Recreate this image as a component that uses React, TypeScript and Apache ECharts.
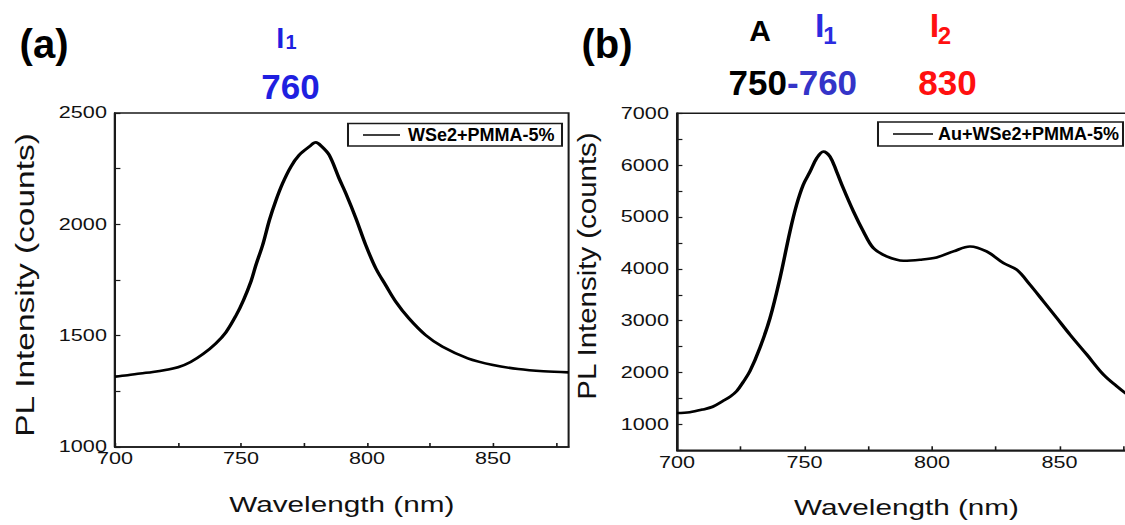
import React, { useEffect, useRef } from "react";
import * as echarts from "echarts";

// horizontal stretch of the original figure's axis typography
const S = 1.35;

// Panel (a): WSe2+PMMA-5%
const wlA = [700, 705, 710, 715, 720, 725, 730, 735, 740, 744, 748, 751, 754, 756, 758.6, 761.3, 763.9, 766.5, 769.8, 773.1, 777.1, 779.7, 782, 785, 788.9, 791.6, 795.6, 799.5, 803.5, 807.4, 811.4, 816.6, 823.2, 830, 840, 850, 860, 870, 880];
const intA = [1316, 1322, 1330, 1337, 1346, 1358, 1382, 1418, 1465, 1515, 1590, 1660, 1745, 1820, 1907, 2020, 2109, 2184, 2259, 2311, 2349, 2368, 2350, 2311, 2207, 2139, 2027, 1907, 1802, 1727, 1653, 1578, 1503, 1450, 1398, 1368, 1350, 1340, 1335];

// Panel (b): Au+WSe2+PMMA-5%
const wlB = [700, 705, 710, 714, 718, 721, 723.4, 726, 728.6, 732.5, 736.5, 740.4, 744.3, 746.9, 749.5, 752.2, 754.8, 757.4, 760, 762.6, 765.2, 769.2, 773.1, 777, 782.2, 788.8, 795.3, 801.8, 808.4, 814.9, 821.4, 828, 833.2, 838.4, 843.7, 848.9, 854.1, 860.7, 867.2, 872.4, 875.7, 880];
const intB = [1220, 1235, 1285, 1340, 1450, 1540, 1641, 1820, 2026, 2476, 3054, 3824, 4721, 5235, 5620, 5876, 6134, 6261, 6165, 5876, 5556, 5106, 4721, 4401, 4240, 4157, 4176, 4220, 4336, 4432, 4336, 4112, 3984, 3695, 3373, 3054, 2732, 2347, 1962, 1737, 1610, 1480];

// tick labels
const xTickLabels = [700, 750, 800, 850];
const yTickLabelsA = [1000, 1500, 2000, 2500];
const yTickLabelsB = [1000, 2000, 3000, 4000, 5000, 6000, 7000];

const seriesNames = ["WSe2+PMMA-5%", "Au+WSe2+PMMA-5%"];

const FONT = '"Liberation Sans", Arial, Helvetica, sans-serif';
const ix = (x: number) => x / S;

function axisCommon() {
  return {
    type: "value" as const,
    axisLine: { show: true, lineStyle: { color: "#1a1a1a", width: 1.5 } },
    axisTick: { show: true, inside: true, length: 4, lineStyle: { color: "#1a1a1a", width: 1.2 } },
    splitLine: { show: false },
  };
}

function txt(text: string, x: number, y: number, size: number, color: string, opts: any = {}) {
  return {
    type: "text",
    x: ix(x),
    y,
    scaleX: opts.scaleX ?? 1 / S,
    scaleY: opts.scaleY ?? 1,
    rotation: opts.rotation ?? 0,
    silent: true,
    style: {
      text,
      fill: color,
      font: `${opts.weight ?? "bold"} ${size}px ${FONT}`,
      align: opts.align ?? "center",
      textAlign: opts.align ?? "center",
      verticalAlign: "middle",
      textVerticalAlign: "middle",
    },
  };
}

export default function App() {
  const ref = useRef<HTMLDivElement>(null);
  useEffect(() => {
    if (!ref.current) return;
    const chart = echarts.init(ref.current, null, { renderer: "svg" });
    const dataA = wlA.map((w, i) => [w, intA[i]]);
    const dataB = wlB.map((w, i) => [w, intB[i]]);
    const gridStyle = { show: true, borderColor: "#1a1a1a", borderWidth: 1.5, backgroundColor: "transparent" };
    const labelStyle = { color: "#111", fontSize: 16, fontFamily: FONT };

    const option: any = {
      animation: false,
      backgroundColor: "#fff",
      grid: [
        { left: ix(115), top: 113, width: ix(568.6) - ix(115), height: 334, ...gridStyle },
        { left: ix(677), top: 113.3, width: ix(1136) - ix(677), height: 337, ...gridStyle },
      ],
      xAxis: [0, 1].map((g) => ({
        ...axisCommon(),
        gridIndex: g,
        min: 700,
        max: 880,
        interval: 25,
        name: "Wavelength (nm)",
        nameLocation: "middle",
        nameGap: 46,
        nameTextStyle: { color: "#111", fontSize: 22, fontFamily: FONT },
        axisLabel: {
          ...labelStyle,
          margin: 4,
          showMaxLabel: false,
          formatter: (v: number) => (xTickLabels.includes(v) ? String(v) : ""),
        },
      })),
      yAxis: [
        {
          ...axisCommon(),
          gridIndex: 0,
          min: 1000,
          max: 2500,
          interval: 250,
          axisLabel: { ...labelStyle, margin: 6, formatter: (v: number) => (yTickLabelsA.includes(v) ? String(v) : "") },
        },
        {
          ...axisCommon(),
          gridIndex: 1,
          min: 500,
          max: 7000,
          interval: 500,
          axisLabel: { ...labelStyle, margin: 6, formatter: (v: number) => (yTickLabelsB.includes(v) ? String(v) : "") },
        },
      ],
      series: [
        {
          name: seriesNames[0],
          type: "line",
          xAxisIndex: 0,
          yAxisIndex: 0,
          data: dataA,
          showSymbol: false,
          smooth: 0.35,
          lineStyle: { color: "#000", width: 2.6 },
        },
        {
          name: seriesNames[1],
          type: "line",
          xAxisIndex: 1,
          yAxisIndex: 1,
          data: dataB,
          showSymbol: false,
          smooth: 0.35,
          lineStyle: { color: "#000", width: 2.6 },
        },
      ],
      graphic: [
        // y-axis titles
        txt("PL Intensity (counts)", 25, 285, 19, "#111", { weight: "normal", rotation: Math.PI / 2, scaleX: 1.76 }),
        txt("PL Intensity (counts)", 587, 266, 19, "#111", { weight: "normal", rotation: Math.PI / 2, scaleX: 1.55 }),
        // panel labels
        txt("(a)", 44, 44, 40, "#000"),
        txt("(b)", 607, 44, 40, "#000"),
        // panel (a) annotations
        txt("I", 280.3, 38, 29, "#1f1fe0"),
        txt("1", 291, 42, 20, "#1f1fe0"),
        txt("760", 290.5, 86.5, 35, "#1f1fe0"),
        // panel (b) annotations
        txt("A", 760, 31, 30, "#000"),
        txt("I", 819.7, 25.5, 34, "#2b2be0"),
        txt("1", 830, 36, 24, "#2b2be0"),
        txt("I", 934.5, 25.5, 34, "#ff1010"),
        txt("2", 944.5, 36, 24, "#ff1010"),
        txt("750", 787, 82.5, 35, "#000", { align: "right" }),
        txt("-760", 787, 82.5, 35, "#3434c8", { align: "left" }),
        txt("830", 947.5, 82.5, 35, "#ff1010"),
        // legend (a)
        {
          type: "rect",
          shape: { x: ix(348), y: 123.5, width: ix(562) - ix(348), height: 22.5 },
          style: { fill: "#fff", stroke: "#1a1a1a", lineWidth: 1.5 },
          silent: true,
        },
        {
          type: "line",
          shape: { x1: ix(363), y1: 135, x2: ix(400), y2: 135 },
          style: { stroke: "#000", lineWidth: 1.5 },
          silent: true,
        },
        txt(seriesNames[0], 408, 135, 18, "#000", { align: "left" }),
        // legend (b)
        {
          type: "rect",
          shape: { x: ix(878), y: 122, width: ix(1123) - ix(878), height: 24 },
          style: { fill: "#fff", stroke: "#1a1a1a", lineWidth: 1.5 },
          silent: true,
        },
        {
          type: "line",
          shape: { x1: ix(893), y1: 134, x2: ix(933), y2: 134 },
          style: { stroke: "#000", lineWidth: 1.5 },
          silent: true,
        },
        txt(seriesNames[1], 938, 134, 18, "#000", { align: "left" }),
      ],
    };
    chart.setOption(option);
    return () => chart.dispose();
  }, []);

  return (
    <div
      style={{
        position: "fixed",
        left: 0,
        top: 0,
        width: 1125,
        height: 525,
        overflow: "hidden",
        background: "#fff",
      }}
    >
      <div
        ref={ref}
        style={{ width: 850, height: 525, transform: `scaleX(${S})`, transformOrigin: "0 0" }}
      />
    </div>
  );
}
